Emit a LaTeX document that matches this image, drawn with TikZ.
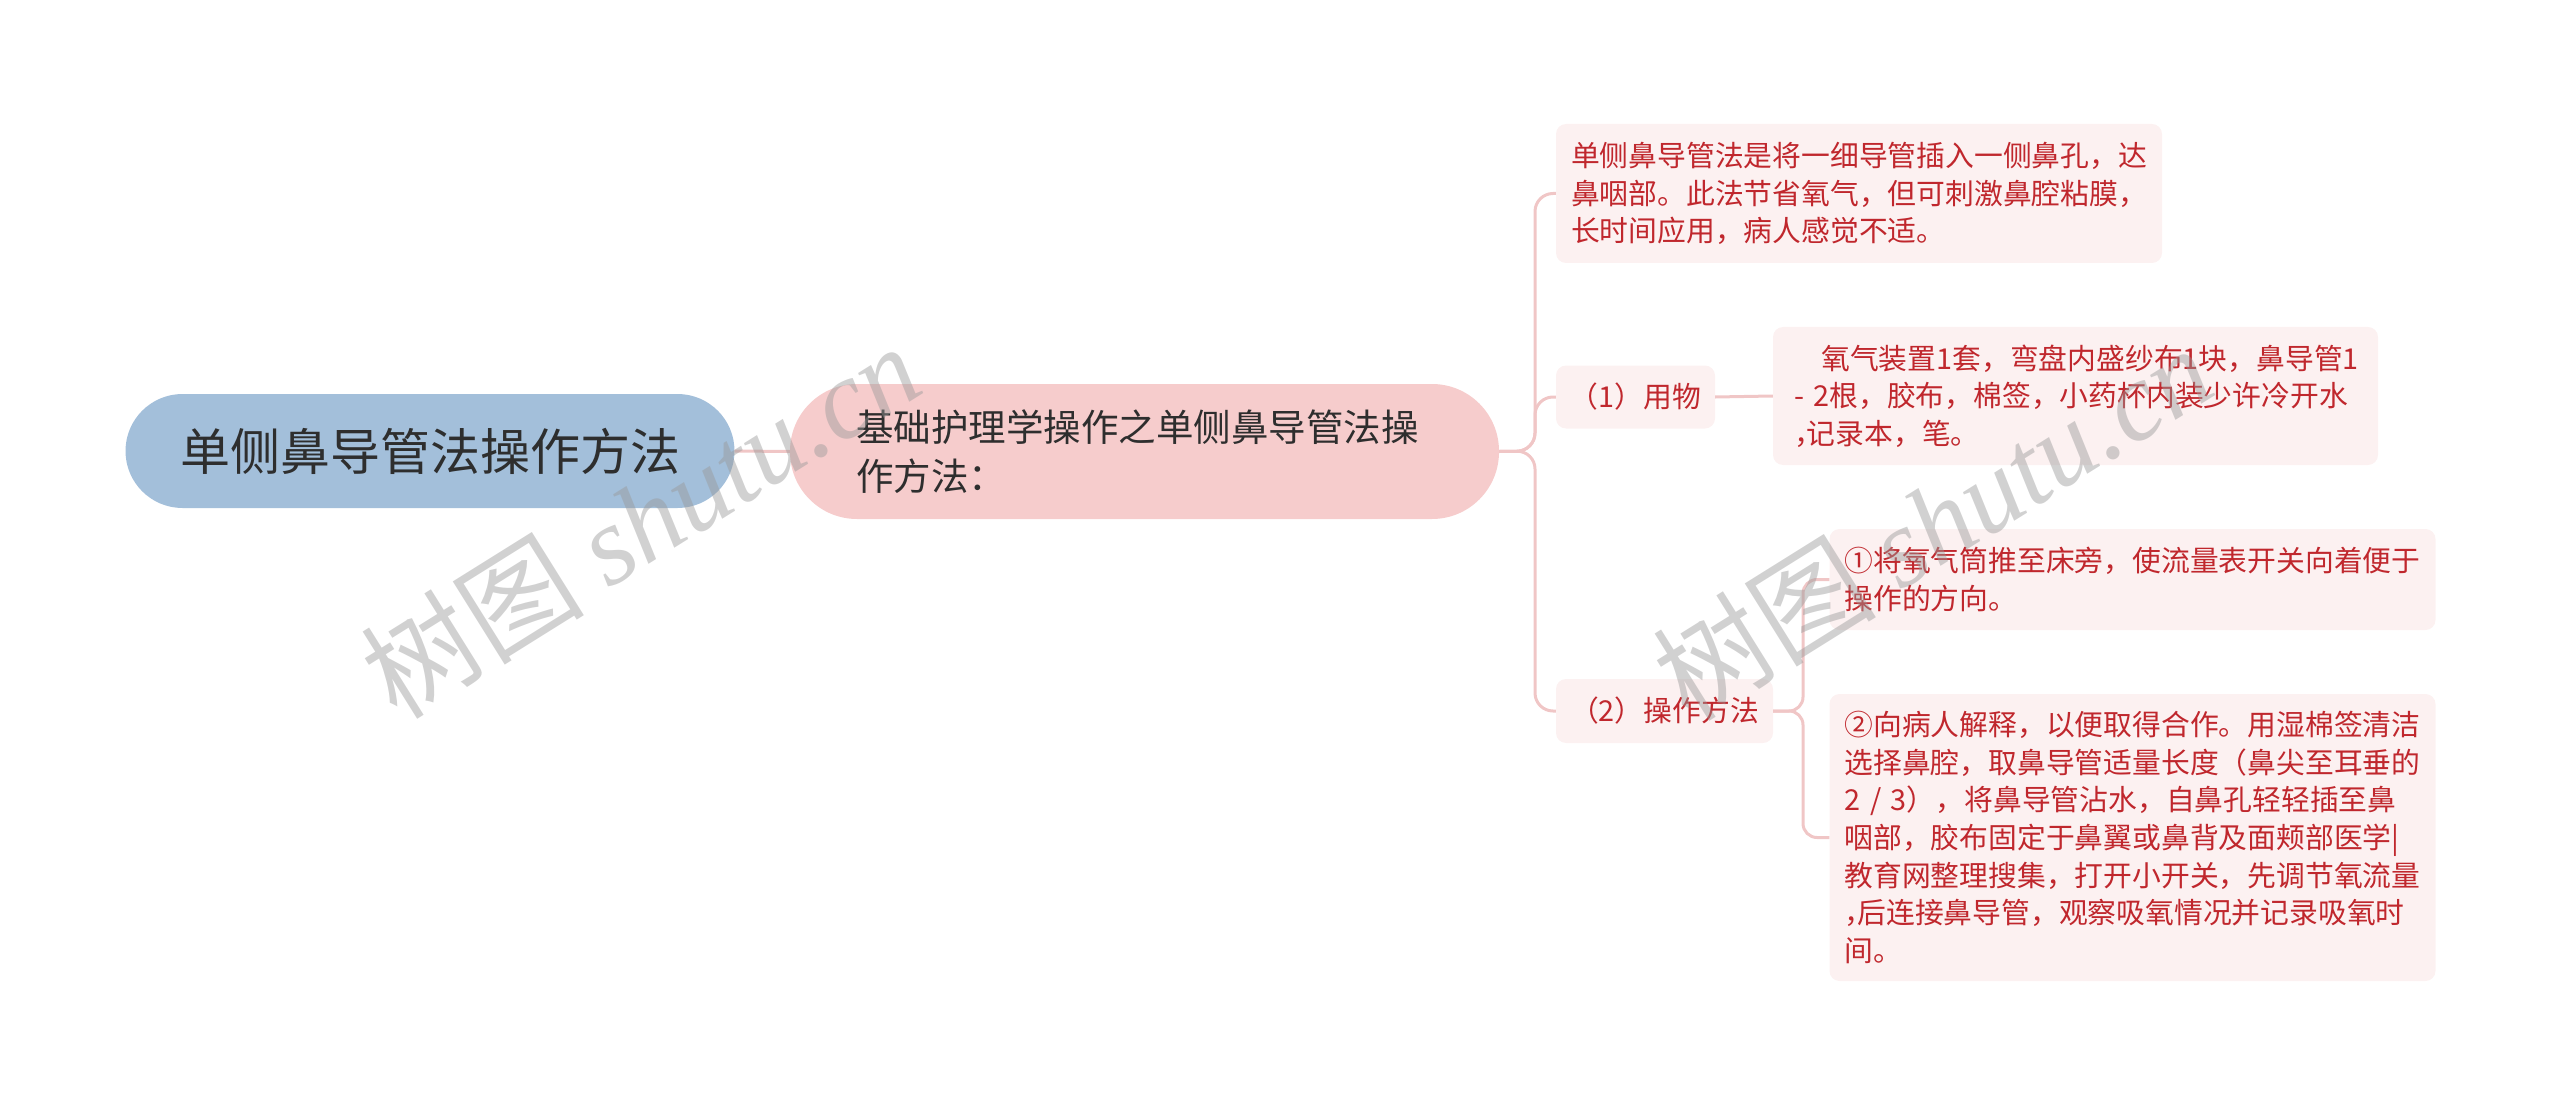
\documentclass[tikz,border=0pt]{standalone}
\usepackage{fontspec}
\newfontfamily\cjk{Noto Sans CJK SC}
\newfontfamily\wmserif{Liberation Serif}
\definecolor{rootfill}{HTML}{A3BFDA}
\definecolor{mainfill}{HTML}{F6CCCC}
\definecolor{leaffill}{HTML}{FCF1F1}
\definecolor{leaftext}{HTML}{C0272D}
\definecolor{conncol}{HTML}{F0C6C6}
\definecolor{darktext}{HTML}{2E2E2E}
\begin{document}
\begin{tikzpicture}[x=1pt,y=-1pt,
 rootbox/.style={fill=rootfill, rounded corners=57pt, minimum width=609pt, minimum height=114pt, inner sep=0pt, text=darktext, font=\cjk\fontsize{50}{58}\selectfont},
 mainbox/.style={fill=mainfill, rounded corners=67pt, minimum height=135pt, inner xsep=66pt, text width=577pt, align=left, text=darktext, font=\cjk\fontsize{37.5}{49}\selectfont},
 branchbox/.style={fill=leaffill, rounded corners=10pt, minimum height=63pt, inner sep=0pt, text=leaftext, font=\cjk\fontsize{28.8}{38}\selectfont},
 leafbox/.style={fill=leaffill, rounded corners=10pt, inner xsep=15pt, text width=576pt, align=left, text=leaftext, font=\cjk\fontsize{28.8}{37.6}\selectfont},
 conn/.style={draw=conncol, line width=3pt},
 wmark/.style={text=black!40, opacity=0.45, rotate=32, inner sep=0pt, font=\fontsize{112}{120}\selectfont}
]
\useasboundingbox (0,0) rectangle (2560,1107);

\node[rootbox] (root) at (430,451) {单侧鼻导管法操作方法};
\node[mainbox] (main) at (1144.5,451.5) {基础护理学操作之单侧鼻导管法操\\作方法：};

\node[leafbox, minimum height=139pt] (l1) at (1859,193.5) {单侧鼻导管法是将一细导管插入一侧鼻孔，达\\鼻咽部。此法节省氧气，但可刺激鼻腔粘膜，\\长时间应用，病人感觉不适。};

\node[branchbox, minimum width=159pt] (b1) at (1635.5,397) {（1）用物};
\node[leafbox, minimum height=138pt, text width=563pt, inner xsep=21pt] (l11) at (2075.5,396) {\hspace*{0.95em}氧气装置1套，弯盘内盛纱布1块，鼻导管1\\{-} 2根，胶布，棉签，小药杯内装少许冷开水\\\makebox[0.45em][l]{，}记录本，笔。};

\node[branchbox, minimum width=217pt, minimum height=64pt] (b2) at (1664.5,711) {（2）操作方法};
\node[leafbox, minimum height=101pt] (l21) at (2132.5,579.5) {①将氧气筒推至床旁，使流量表开关向着便于\\操作的方向。};
\node[leafbox, minimum height=287pt] (l22) at (2132.5,837.5) {②向病人解释，以便取得合作。用湿棉签清洁\\选择鼻腔，取鼻导管适量长度（鼻尖至耳垂的\\2 / 3），将鼻导管沾水，自鼻孔轻轻插至鼻\\咽部，胶布固定于鼻翼或鼻背及面颊部医学|\\教育网整理搜集，打开小开关，先调节氧流量\\\makebox[0.45em][l]{，}后连接鼻导管，观察吸氧情况并记录吸氧时\\间。};

\draw[conn] (root.east) -- (main.west);
\draw[conn, rounded corners=18pt] (main.east) -- (1535,451) -- (1535,193.5) -- (l1.west);
\draw[conn, rounded corners=18pt] (main.east) -- (1535,451) -- (1535,397) -- (b1.west);
\draw[conn, rounded corners=18pt] (main.east) -- (1535,451) -- (1535,711) -- (b2.west);
\draw[conn] (b1.east) -- (l11.west);
\draw[conn, rounded corners=14pt] (b2.east) -- (1803,711) -- (1803,579.5) -- (l21.west);
\draw[conn, rounded corners=14pt] (b2.east) -- (1803,711) -- (1803,837.5) -- (l22.west);

\node[wmark] (wm1) at (640,520) {\cjk 树图 \wmserif\itshape shutu.cn};
\node[wmark] (wm2) at (1932,522) {\cjk 树图 \wmserif\itshape shutu.cn};
\end{tikzpicture}
\end{document}
